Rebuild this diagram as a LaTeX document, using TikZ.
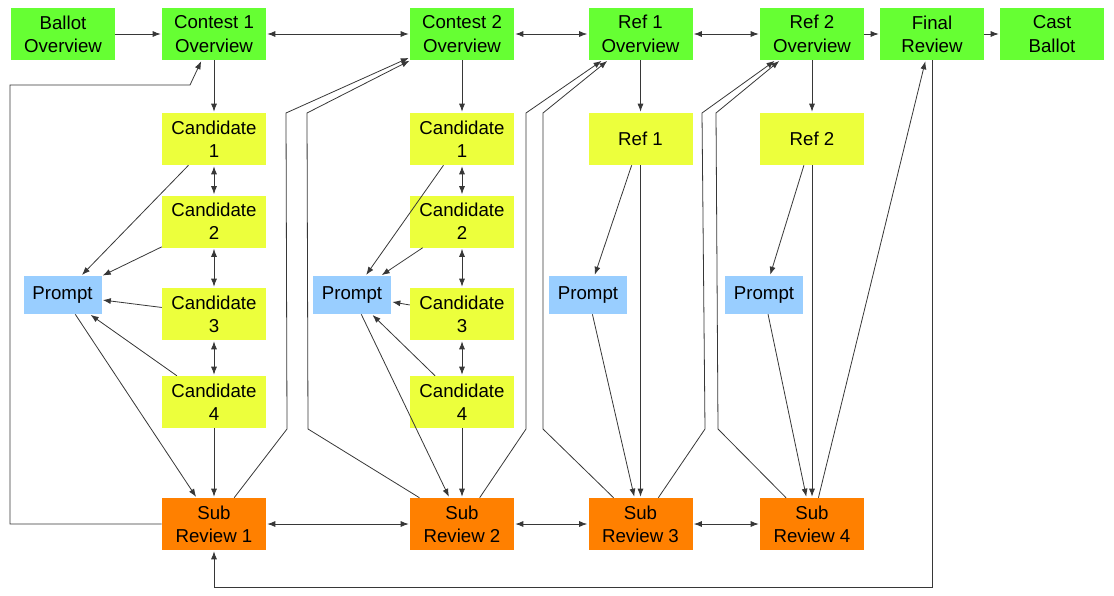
\documentclass[tikz,border=0pt]{standalone}
\usepackage{fontspec}
\setmainfont{Liberation Sans}
\usetikzlibrary{arrows.meta}
\definecolor{ovgreen}{RGB}{102,255,51}
\definecolor{candyellow}{RGB}{236,255,60}
\definecolor{promptblue}{RGB}{153,206,255}
\definecolor{revorange}{RGB}{255,128,0}
\definecolor{wire}{RGB}{55,55,55}
\begin{document}
\begin{tikzpicture}[x=0.75pt,y=-0.75pt,
  box/.style={minimum width=78pt, minimum height=39pt, inner sep=0pt, align=center,
              font=\fontsize{14}{17.5}\selectfont},
  overview/.style={box, fill=ovgreen},
  choice/.style={box, fill=candyellow},
  prompt/.style={box, fill=promptblue, minimum width=58.5pt, minimum height=28.5pt},
  review/.style={box, fill=revorange},
  link/.style={draw=wire, line width=0.6pt, -{Latex[length=6pt,width=4.5pt]}, shorten >=0.8pt},
  both/.style={link, {Latex[length=6pt,width=4.5pt]}-{Latex[length=6pt,width=4.5pt]}, shorten <=0.8pt},
]
\useasboundingbox (0,0) rectangle (1114,596);

% top row of overview screens
\node[overview] (ballot) at (63,34)    {Ballot\\Overview};
\node[overview] (con1)   at (214,34)   {Contest 1\\Overview};
\node[overview] (con2)   at (462,34)   {Contest 2\\Overview};
\node[overview] (ref1ov) at (640.5,34) {Ref 1\\Overview};
\node[overview] (ref2ov) at (812,34)   {Ref 2\\Overview};
\node[overview] (final)  at (932,34)   {Final\\Review};
\node[overview] (cast)   at (1052,34)  {Cast\\Ballot};

% contest 1 candidates
\node[choice] (a1) at (214,139)   {Candidate\\1};
\node[choice] (a2) at (214,221.5) {Candidate\\2};
\node[choice] (a3) at (214,314)   {Candidate\\3};
\node[choice] (a4) at (214,402)   {Candidate\\4};
\node[prompt] (pa) at (62.5,295)  {Prompt};

% contest 2 candidates
\node[choice] (b1) at (462,139)   {Candidate\\1};
\node[choice] (b2) at (462,221.5) {Candidate\\2};
\node[choice] (b3) at (462,314)   {Candidate\\3};
\node[choice] (b4) at (462,402)   {Candidate\\4};
\node[prompt] (pb) at (352,295)   {Prompt};

% referenda
\node[choice] (r1) at (640.5,139) {Ref 1};
\node[prompt] (pc) at (588,295)   {Prompt};
\node[choice] (r2) at (812,139)   {Ref 2};
\node[prompt] (pd) at (764,295)   {Prompt};

% sub reviews
\node[review] (s1) at (214,524)   {Sub\\Review 1};
\node[review] (s2) at (462,524)   {Sub\\Review 2};
\node[review] (s3) at (640.5,524) {Sub\\Review 3};
\node[review] (s4) at (812,524)   {Sub\\Review 4};

% main navigation along the top
\draw[link] (ballot) -- (con1);
\draw[both] (con1) -- (con2);
\draw[both] (con2) -- (ref1ov);
\draw[both] (ref1ov) -- (ref2ov);
\draw[link] (ref2ov) -- (final);
\draw[link] (final) -- (cast);

% contest 1 column
\draw[link] (con1) -- (a1);
\draw[both] (a1) -- (a2);
\draw[both] (a2) -- (a3);
\draw[both] (a3) -- (a4);
\draw[link] (a4) -- (s1);
\draw[link] (a1) -- (pa);
\draw[link] (a2) -- (pa);
\draw[link] (a3) -- (pa);
\draw[link] (a4) -- (pa);
\draw[link] (pa) -- (s1);

% contest 2 column
\draw[link] (con2) -- (b1);
\draw[both] (b1) -- (b2);
\draw[both] (b2) -- (b3);
\draw[both] (b3) -- (b4);
\draw[link] (b4) -- (s2);
\draw[link] (b1) -- (pb);
\draw[link] (b2) -- (pb);
\draw[link] (b3) -- (pb);
\draw[link] (b4) -- (pb);
\draw[link] (pb) -- (s2);

% referendum columns
\draw[link] (ref1ov) -- (r1);
\draw[link] (r1) -- (s3);
\draw[link] (r1) -- (pc);
\draw[link] (pc) -- (s3);
\draw[link] (ref2ov) -- (r2);
\draw[link] (r2) -- (s4);
\draw[link] (r2) -- (pd);
\draw[link] (pd) -- (s4);

% moves between sub reviews
\draw[both] (s1) -- (s2);
\draw[both] (s2) -- (s3);
\draw[both] (s3) -- (s4);
\draw[link] (s4) -- (final);

% jumps back from sub reviews to overviews
\draw[link] (s1) -- (10,524) -- (10,85) -- (190,85) -- (con1);
\draw[link] (s1) -- (287,429) -- (286,113) -- (con2);
\draw[link] (s2) -- (308,429) -- (307,113) -- (con2);
\draw[link] (s2) -- (526,429) -- (526,113) -- (ref1ov);
\draw[link] (s3) -- (543,429) -- (543,113) -- (ref1ov);
\draw[link] (s3) -- (705,429) -- (702,113) -- (ref2ov);
\draw[link] (s4) -- (718,429) -- (716,113) -- (ref2ov);

% final review back to the first sub review
\coordinate (loopcorner) at (932,587);
\draw[link] (final.south) -- (loopcorner) -| (s1.south);
\end{tikzpicture}
\end{document}
